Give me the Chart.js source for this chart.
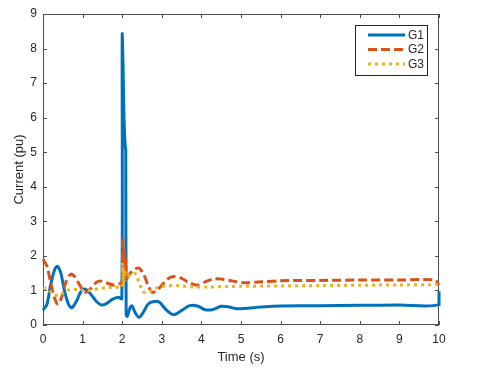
<!DOCTYPE html>
<html>
<head>
<meta charset="utf-8">
<script src="https://cdn.jsdelivr.net/npm/chart.js@4.4.0/dist/chart.umd.min.js"></script>
<style>
  html, body { margin: 0; padding: 0; background: #fff; }
  #wrap { width: 480px; height: 380px; position: relative; }
</style>
</head>
<body>
<div id="wrap"><canvas id="chart"></canvas></div>
<script>
// 시계열 데이터
const seriesNames = ['G1', 'G2', 'G3'];
const seriesColors = ['#0072BD', '#D95319', '#EDB120'];

const timeG1 = [0, 0.1, 0.2, 0.3, 0.36, 0.45, 0.55, 0.65, 0.73, 0.85, 0.95, 1.06, 1.2, 1.35, 1.48, 1.6, 1.75, 1.9, 1.99,
  2.0, 2.02, 2.04, 2.06, 2.08, 2.09, 2.1, 2.13, 2.2, 2.25, 2.33, 2.43, 2.55, 2.65, 2.8, 2.95, 3.1, 3.3, 3.5, 3.7, 3.9,
  4.1, 4.3, 4.5, 4.7, 4.9, 5.1, 5.3, 5.6, 6, 7, 8, 9, 10, 10];
const currentG1 = [0.43, 0.6, 1.2, 1.62, 1.7, 1.5, 0.95, 0.58, 0.5, 0.7, 0.95, 1.04, 0.9, 0.68, 0.58, 0.62, 0.74, 0.8, 0.76,
  8.4, 7.6, 6.3, 5.5, 5.15, 5.05, 0.3, 0.25, 0.5, 0.55, 0.35, 0.22, 0.4, 0.6, 0.68, 0.65, 0.45, 0.3, 0.42, 0.56, 0.55,
  0.44, 0.45, 0.54, 0.52, 0.47, 0.48, 0.5, 0.53, 0.55, 0.56, 0.57, 0.58, 0.59, 0.98];

const timeG2 = [0, 0.1, 0.2, 0.3, 0.38, 0.47, 0.58, 0.7, 0.8, 0.93, 1.06, 1.2, 1.33, 1.45, 1.6, 1.8, 1.95, 2.0,
  2.01, 2.03, 2.05, 2.07, 2.09, 2.11, 2.2, 2.3, 2.42, 2.55, 2.65, 2.75, 2.85, 3.0, 3.15, 3.3, 3.5, 3.7, 3.9,
  4.1, 4.3, 4.5, 4.8, 5.1, 5.5, 6, 7, 8, 9, 9.9, 10];
const currentG2 = [1.9, 1.7, 1.2, 0.75, 0.6, 0.8, 1.25, 1.47, 1.4, 1.15, 0.95, 1.05, 1.22, 1.27, 1.22, 1.15, 1.2, 1.2,
  2.55, 1.5, 2.3, 1.4, 1.9, 1.35, 1.5, 1.6, 1.65, 1.45, 1.15, 0.95, 0.98, 1.15, 1.33, 1.4, 1.35, 1.22, 1.15,
  1.25, 1.33, 1.33, 1.27, 1.22, 1.25, 1.28, 1.29, 1.3, 1.3, 1.3, 1.15];

const timeG3 = [0, 0.1, 0.2, 0.3, 0.4, 0.5, 0.6, 0.8, 1.0, 1.2, 1.4, 1.6, 1.8, 2.0,
  2.01, 2.03, 2.05, 2.07, 2.09, 2.12, 2.2, 2.32, 2.42, 2.52, 2.62, 2.75, 2.9, 3.1, 3.4, 3.8, 4.2, 5, 6, 7, 8, 9, 10];
const currentG3 = [1.07, 1.05, 0.95, 0.87, 0.85, 0.92, 1.0, 1.03, 1.0, 1.0, 1.05, 1.08, 1.1, 1.1,
  1.8, 1.25, 1.6, 1.3, 1.5, 1.4, 1.45, 1.5, 1.25, 0.97, 0.93, 1.0, 1.08, 1.13, 1.14, 1.1, 1.1, 1.12, 1.13, 1.14, 1.15, 1.16, 1.17];

const xTicks = [0, 1, 2, 3, 4, 5, 6, 7, 8, 9, 10];
const yTicks = [0, 1, 2, 3, 4, 5, 6, 7, 8, 9];

const FONT = '"Liberation Sans", Arial, Helvetica, sans-serif';
const AXIS_COLOR = '#262626';

function toPoints(times, values) {
  return times.map((t, i) => ({ x: t, y: values[i] }));
}

// 축 박스 + 안쪽 눈금 (MATLAB 스타일)
const framePlugin = {
  id: 'frame',
  beforeDatasetsDraw(chart) {
    const { ctx, chartArea: a, scales: { x, y } } = chart;
    ctx.save();
    ctx.strokeStyle = '#4d4d4d';
    ctx.lineWidth = 1;
    ctx.strokeRect(Math.round(a.left) + 0.5, Math.round(a.top) + 0.5,
      Math.round(a.right - a.left) - 1, Math.round(a.bottom - a.top) - 1);
    ctx.beginPath();
    xTicks.forEach(v => {
      const px = Math.round(x.getPixelForValue(v)) + 0.5;
      ctx.moveTo(px, a.bottom); ctx.lineTo(px, a.bottom - 4);
      ctx.moveTo(px, a.top); ctx.lineTo(px, a.top + 4);
    });
    yTicks.forEach(v => {
      const py = Math.round(y.getPixelForValue(v)) + 0.5;
      ctx.moveTo(a.left, py); ctx.lineTo(a.left + 4, py);
      ctx.moveTo(a.right, py); ctx.lineTo(a.right - 4, py);
    });
    ctx.stroke();
    ctx.restore();
  }
};

// 그래프 안쪽 오른쪽 위 범례
const legendBoxPlugin = {
  id: 'legendBox',
  afterDatasetsDraw(chart) {
    const { ctx } = chart;
    const left = 355, top = 25, w = 72, h = 50;
    ctx.save();
    ctx.fillStyle = '#fff';
    ctx.fillRect(left, top, w, h);
    ctx.strokeStyle = '#262626';
    ctx.lineWidth = 1;
    ctx.strokeRect(left + 0.5, top + 0.5, w, h);
    ctx.font = '12px ' + FONT;
    ctx.textBaseline = 'middle';
    chart.data.datasets.forEach((ds, i) => {
      const yy = top + 10 + i * 14.5;
      ctx.strokeStyle = ds.borderColor;
      ctx.lineWidth = 3;
      ctx.setLineDash(ds.borderDash || []);
      ctx.beginPath();
      ctx.moveTo(368, yy);
      ctx.lineTo(405, yy);
      ctx.stroke();
      ctx.setLineDash([]);
      ctx.fillStyle = AXIS_COLOR;
      ctx.fillText(ds.label, 408, yy + 0.5);
    });
    ctx.restore();
  }
};

const times = [timeG1, timeG2, timeG3];
const values = [currentG1, currentG2, currentG3];
const dashes = [[], [9, 4], [3, 4]];

const datasets = seriesNames.map((name, i) => ({
  label: name,
  data: toPoints(times[i], values[i]),
  borderColor: seriesColors[i],
  borderWidth: 3,
  borderDash: dashes[i],
  pointRadius: 0,
  tension: 0.3,
  fill: false,
  clip: false,
  order: 3 - i
}));

new Chart(document.getElementById('chart'), {
  type: 'line',
  data: { datasets: datasets },
  options: {
    responsive: true,
    maintainAspectRatio: false,
    animation: false,
    layout: { padding: { top: 14, right: 41, left: 0, bottom: 0 } },
    plugins: {
      legend: { display: false },
      tooltip: { enabled: false }
    },
    scales: {
      x: {
        type: 'linear',
        min: 0,
        max: 10,
        afterFit: s => { s.height = 55; },
        afterBuildTicks: s => { s.ticks = xTicks.map(v => ({ value: v })); },
        grid: { display: false, drawTicks: false },
        border: { display: false },
        ticks: { padding: 7, color: AXIS_COLOR, font: { family: FONT, size: 12 }, maxRotation: 0 },
        title: { display: true, text: 'Time (s)', color: AXIS_COLOR, font: { family: FONT, size: 13 }, padding: { top: 0, bottom: 15 } }
      },
      y: {
        min: 0,
        max: 9,
        afterFit: s => { s.width = 43; },
        afterBuildTicks: s => { s.ticks = yTicks.map(v => ({ value: v })); },
        grid: { display: false, drawTicks: false },
        border: { display: false },
        ticks: { padding: 6, color: AXIS_COLOR, font: { family: FONT, size: 12 } },
        title: { display: true, text: 'Current (pu)', color: AXIS_COLOR, font: { family: FONT, size: 13 }, padding: { top: 12, bottom: 0 } }
      }
    }
  },
  plugins: [framePlugin, legendBoxPlugin]
});
</script>
</body>
</html>
